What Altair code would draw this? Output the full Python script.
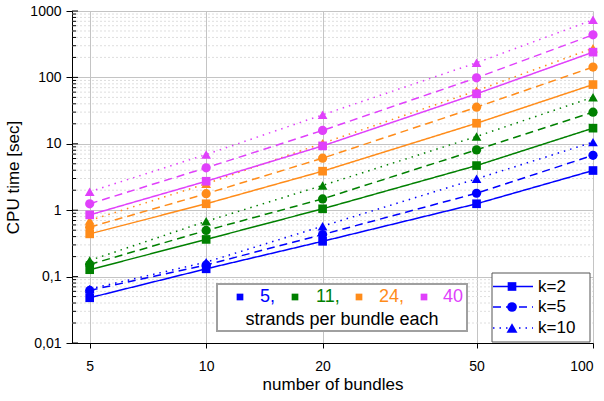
import altair as alt
import pandas as pd

# ---------------- data ----------------
bundles = [5, 10, 20, 50, 100]
strand_names = ["5", "11", "24", "40"]
k_names = ["k=2", "k=5", "k=10"]
colors = ["#0000ff", "#008000", "#ff8c1a", "#e040fb"]

# CPU time [sec] per strands-per-bundle series and k
s5_k2 = [0.048, 0.131, 0.34, 1.25, 3.96]
s5_k5 = [0.062, 0.15, 0.43, 1.8, 6.7]
s5_k10 = [0.065, 0.165, 0.575, 2.97, 10.6]
s11_k2 = [0.127, 0.363, 1.05, 4.7, 17.2]
s11_k5 = [0.152, 0.495, 1.48, 8.1, 29.9]
s11_k10 = [0.175, 0.68, 2.36, 12.9, 50.4]
s24_k2 = [0.44, 1.25, 3.87, 20.4, 78]
s24_k5 = [0.555, 1.77, 6.07, 35.6, 143]
s24_k10 = [0.70, 2.5, 10.2, 63, 275]
s40_k2 = [0.85, 2.73, 9.3, 56.6, 240]
s40_k5 = [1.25, 4.35, 15.9, 98.6, 438]
s40_k10 = [1.9, 6.9, 27.3, 166, 737]

y_major = [0.01, 0.1, 1, 10, 100, 1000]
y_minor = [m * d for d in [0.01, 0.1, 1, 10, 100] for m in range(2, 10)]

legend_labels = ["5,", "11,", "24,", "40"]
legend_caption = "strands per bundle each"

series = {
    ("5", "k=2"): s5_k2, ("5", "k=5"): s5_k5, ("5", "k=10"): s5_k10,
    ("11", "k=2"): s11_k2, ("11", "k=5"): s11_k5, ("11", "k=10"): s11_k10,
    ("24", "k=2"): s24_k2, ("24", "k=5"): s24_k5, ("24", "k=10"): s24_k10,
    ("40", "k=2"): s40_k2, ("40", "k=5"): s40_k5, ("40", "k=10"): s40_k10,
}
rows = []
for (s, k), vals in series.items():
    for b, v in zip(bundles, vals):
        rows.append({"bundles": b, "strands": s, "k": k, "time": v})
df = pd.DataFrame(rows)

FONT = "Liberation Sans"
W, H = 521, 332
dashes = [[1, 0], [8, 5], [1.5, 5]]
shapes = ["square", "circle", "triangle-up"]
sizes = [75, 95, 120]

xscale = alt.Scale(type="log", domain=[4.5, 100], nice=False)
yscale = alt.Scale(type="log", domain=[0.01, 1000], nice=False)

x_enc = alt.X("bundles:Q", scale=xscale,
              axis=alt.Axis(values=bundles, format="d", title="number of bundles",
                            grid=True, gridColor="#c4c4c4", gridWidth=1,
                            tickSize=5, tickColor="black", domainColor="black",
                            labelFontSize=14, titleFontSize=17, labelPadding=11,
                            titlePadding=3, titleFontWeight="normal",
                            labelFont=FONT, titleFont=FONT, labelColor="black",
                            titleColor="black"))
y_enc = alt.Y("time:Q", scale=yscale,
              axis=alt.Axis(values=y_major, title="CPU time [sec]",
                            labelExpr="datum.value >= 1 ? format(datum.value, 'd') : replace(format(datum.value, '.2~f'), '.', ',')",
                            grid=True, gridColor="#c4c4c4", gridWidth=1,
                            tickSize=6, tickColor="black", domainColor="black",
                            labelFontSize=14, titleFontSize=17, labelPadding=5,
                            titlePadding=7, titleFontWeight="normal",
                            labelFont=FONT, titleFont=FONT, labelColor="black",
                            titleColor="black"))

color_enc = alt.Color("strands:N", scale=alt.Scale(domain=strand_names, range=colors), legend=None)

# minor grid lines and inside ticks
minor_df = pd.DataFrame({"v": y_minor})
minor_grid = alt.Chart(minor_df).mark_rule(color="#dedede", strokeWidth=1, strokeDash=[2, 2]).encode(
    y=alt.Y("v:Q", scale=yscale), x=alt.value(0), x2=alt.value(W))
minor_ticks = alt.Chart(minor_df).mark_rule(color="black", strokeWidth=1).encode(
    y=alt.Y("v:Q", scale=yscale), x=alt.value(0), x2=alt.value(4))
major_ticks = alt.Chart(pd.DataFrame({"v": y_major})).mark_rule(color="black", strokeWidth=1).encode(
    y=alt.Y("v:Q", scale=yscale), x=alt.value(0), x2=alt.value(6))

lines = alt.Chart(df).mark_line(strokeWidth=1.5).encode(
    x=x_enc, y=y_enc, color=color_enc,
    strokeDash=alt.StrokeDash("k:N", scale=alt.Scale(domain=k_names, range=dashes), legend=None),
)
points = alt.Chart(df).mark_point(filled=True, opacity=1).encode(
    x=alt.X("bundles:Q", scale=xscale), y=alt.Y("time:Q", scale=yscale), color=color_enc,
    shape=alt.Shape("k:N", scale=alt.Scale(domain=k_names, range=shapes), legend=None),
    size=alt.Size("k:N", scale=alt.Scale(domain=k_names, range=sizes), legend=None),
)

one = alt.Data(values=[{"a": 1}])

# ---- legend 1: colours ----
box1 = alt.Chart(one).mark_rect(fill="white", stroke="#a0a0a0", strokeWidth=2).encode(
    x=alt.value(145), x2=alt.value(395), y=alt.value(273), y2=alt.value(320))
leg1 = [box1]
sq_x = [168, 223, 287, 352]
tx_x = [188, 244, 307, 371]
for i in range(4):
    leg1.append(alt.Chart(one).mark_point(shape="square", filled=True, size=45, opacity=1, color=colors[i]).encode(
        x=alt.value(sq_x[i]), y=alt.value(286)))
    leg1.append(alt.Chart(one).mark_text(text=legend_labels[i], align="left", baseline="middle",
                                          fontSize=18, font=FONT, color=colors[i]).encode(
        x=alt.value(tx_x[i]), y=alt.value(286)))
leg1.append(alt.Chart(one).mark_text(text=legend_caption, align="center", baseline="middle",
                                      fontSize=18, font=FONT, color="black").encode(
    x=alt.value(270), y=alt.value(309)))

# ---- legend 2: k ----
box2 = alt.Chart(one).mark_rect(fill="white", stroke="#555555", strokeWidth=1).encode(
    x=alt.value(420), x2=alt.value(518), y=alt.value(262), y2=alt.value(331))
leg2 = [box2]
row_y = [275.5, 296, 317]
for i in range(3):
    leg2.append(alt.Chart(one).mark_rule(color="#0000ff", strokeWidth=1.5, strokeDash=dashes[i]).encode(
        x=alt.value(421), x2=alt.value(461), y=alt.value(row_y[i])))
    leg2.append(alt.Chart(one).mark_point(shape=shapes[i], filled=True, size=sizes[i], opacity=1, color="#0000ff").encode(
        x=alt.value(440), y=alt.value(row_y[i])))
    leg2.append(alt.Chart(one).mark_text(text=k_names[i], align="left", baseline="middle",
                                          fontSize=17, font=FONT, color="black").encode(
        x=alt.value(466), y=alt.value(row_y[i])))

chart = alt.layer(minor_grid, lines, points, minor_ticks, major_ticks, *leg1, *leg2).properties(
    width=W, height=H,
    autosize=alt.AutoSizeParams(type="none"),
    padding={"left": 72, "top": 11, "right": 11, "bottom": 58},
    background="white",
).configure_view(stroke=None)

chart.save("out.html", embed_options={"renderer": "svg", "actions": False})
